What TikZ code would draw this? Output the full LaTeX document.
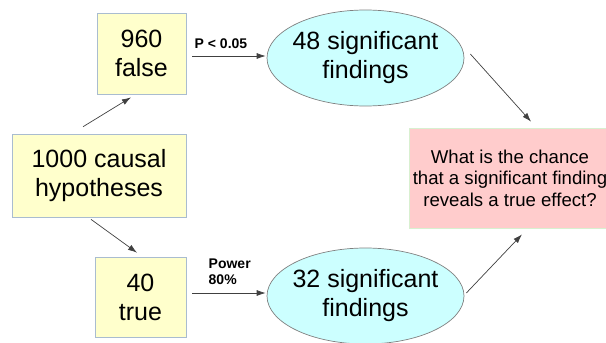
\documentclass[tikz,border=0pt]{standalone}
\usepackage{fontspec}
\setmainfont{Liberation Sans}
\usetikzlibrary{shapes.geometric,arrows.meta}
\definecolor{boxyellow}{HTML}{FFFFCC}
\definecolor{boxedge}{HTML}{A9BCD0}
\definecolor{ellfill}{HTML}{CCFFFF}
\definecolor{elledge}{HTML}{808080}
\definecolor{pinkfill}{HTML}{FFCCCC}
\definecolor{pinkedge}{HTML}{D8F0D0}
\definecolor{arrgray}{HTML}{404040}
\tikzset{
  ybox/.style={draw=boxedge, line width=0.8pt, fill=boxyellow, inner sep=0pt, align=center,
    font=\fontsize{25}{29}\selectfont},
  ell/.style={ellipse, draw=elledge, line width=0.7pt, fill=ellfill, inner xsep=-5pt, inner ysep=0pt, align=center,
    minimum width=197pt, minimum height=96pt, font=\fontsize{25}{29}\selectfont},
  qbox/.style={draw=pinkedge, line width=0.8pt, fill=pinkfill, inner sep=0pt, align=center,
    minimum width=202pt, minimum height=100pt, font=\fontsize{18.6}{21.5}\selectfont},
  arr/.style={draw=arrgray, line width=0.7pt, -{Latex[length=9pt,width=6pt]}},
  lbl/.style={inner sep=0pt, anchor=west, align=left, font=\bfseries\fontsize{14}{16}\selectfont}
}
\begin{document}
\begin{tikzpicture}[x=1pt,y=-1pt]
\useasboundingbox (0,0) rectangle (606,343);
\node[ybox, minimum width=89pt, minimum height=81pt] (false) at (141.5,53.5) {960\\false};
\node[ybox, minimum width=174pt, minimum height=83pt] (hyp) at (99,175.5) {1000 causal\\hypotheses};
\node[ybox, minimum width=91pt, minimum height=80pt] (true) at (140.5,297) {40\\true};
\node[ell] (e48) at (365.5,58) {48 significant\\findings};
\node[ell] (e32) at (365.5,296) {32 significant\\findings};
\node[qbox] (q) at (510,178) {What is the chance\\that a significant finding\\reveals a true effect?};
\node[lbl] (p) at (194.5,44) {P < 0.05};
\node[lbl] (pw) at (208.5,272) {Power\\80\%};
\draw[arr, shorten <=13.2pt, shorten >=5.7pt] ([xshift=-27.2pt]hyp.north) -- ([xshift=-5.7pt]false.south);
\draw[arr, shorten <=3.4pt, shorten >=6.7pt] ([xshift=-10.7pt]hyp.south) -- ([xshift=1.9pt]true.north);
\draw[arr, shorten <=6pt, shorten >=1pt] ([yshift=-2.5pt]false.east) -- ([yshift=-2.5pt]false.east -| e48.west);
\draw[arr, shorten <=6pt, shorten >=1pt] ([yshift=4pt]true.east) -- ([yshift=4pt]true.east -| e32.west);
\draw[arr, shorten >=8pt] ([shift={(6pt,4pt)}]e48.east) -- ([xshift=26.4pt]q.north);
\draw[arr, shorten >=8.3pt] ([shift={(2pt,3pt)}]e32.east) -- ([xshift=17.7pt]q.south);
\end{tikzpicture}
\end{document}
